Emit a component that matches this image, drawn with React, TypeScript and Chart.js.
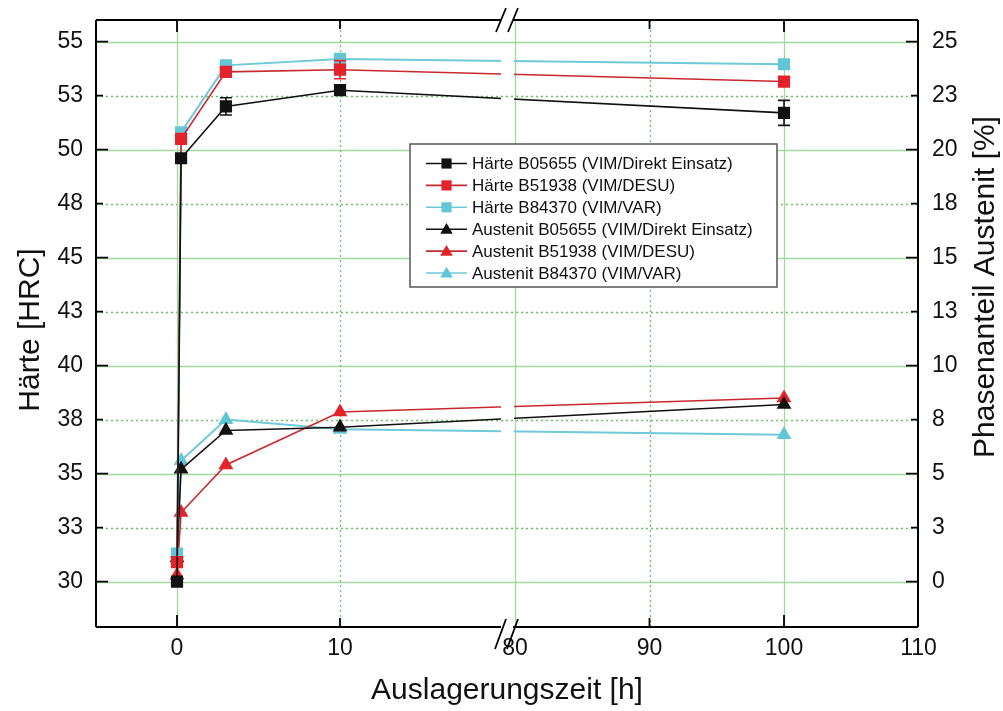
import React, { useEffect, useRef } from "react";
import { Chart, registerables } from "chart.js";

Chart.register(...registerables);

// ---------------- data ----------------
const HOURS = [0, 0.25, 3, 10, 100];

const HAERTE_B05655 = [30.0, 49.6, 52.0, 52.75, 51.7];
const HAERTE_B51938 = [30.9, 50.5, 53.6, 53.7, 53.15];
const HAERTE_B84370 = [31.3, 50.8, 53.9, 54.2, 53.95];

const HAERTE_ERR_B05655 = [0, 0, 0.4, 0.15, 0.58];
const HAERTE_ERR_B51938 = [0, 0, 0.15, 0.42, 0.1];
const HAERTE_ERR_B84370 = [0, 0, 0, 0, 0];

const AUSTENIT_B05655 = [1.1, 5.2, 7.0, 7.15, 8.2];
const AUSTENIT_B51938 = [0.3, 3.2, 5.4, 7.85, 8.5];
const AUSTENIT_B84370 = [1.3, 5.6, 7.5, 7.05, 6.8];

const SERIES_LABELS = [
  "Härte B05655 (VIM/Direkt Einsatz)",
  "Härte B51938 (VIM/DESU)",
  "Härte B84370 (VIM/VAR)",
  "Austenit B05655 (VIM/Direkt Einsatz)",
  "Austenit B51938 (VIM/DESU)",
  "Austenit B84370 (VIM/VAR)",
];

const X_TICK_HOURS = [0, 10, 80, 90, 100, 110];
const X_TICK_LABELS = ["0", "10", "80", "90", "100", "110"];
const Y_LEFT_TICKS = [30, 32.5, 35, 37.5, 40, 42.5, 45, 47.5, 50, 52.5, 55];
const Y_LEFT_TICK_LABELS = ["30", "33", "35", "38", "40", "43", "45", "48", "50", "53", "55"];
const Y_RIGHT_TICKS = [0, 2.5, 5, 7.5, 10, 12.5, 15, 17.5, 20, 22.5, 25];
const Y_RIGHT_TICK_LABELS = ["0", "3", "5", "8", "10", "13", "15", "18", "20", "23", "25"];

const X_TITLE = "Auslagerungszeit [h]";
const Y_LEFT_TITLE = "Härte [HRC]";
const Y_RIGHT_TITLE = "Phasenanteil Austenit [%]";

// ---------------- broken x axis (0..~20 | 80..110) ----------------
const LEFT_UNIT = 16.3; // axis units per hour, left segment
const RIGHT_UNIT = 13.45; // axis units per hour, right segment
const RIGHT_OFFSET = 338; // axis position of 80 h
const X_MIN_V = -81;
const X_MAX_V = 741;
const GAP_V = [324, 337];
const BREAK_V = 330;
const vx = (h: number) => (h < 50 ? h * LEFT_UNIT : RIGHT_OFFSET + (h - 80) * RIGHT_UNIT);

// ---------------- styles ----------------
const FONT = '"Liberation Sans", Arial, Helvetica, sans-serif';
const BLACK = "#111111";
const RED = "#e3222a";
const RED_LINE = "#c9282f";
const CYAN = "#62c6d6";
const CYAN_LINE = "#6fcad8";
const GRID_SOLID = "#a2d89f";
const GRID_DOT = "#6cc06a";

const MARKER_R = 8.6;

const mk = (vals: number[]) => HOURS.map((h, i) => ({ x: vx(h), y: vals[i] }));

const SERIES = [
  { label: SERIES_LABELS[0], data: HAERTE_B05655, err: HAERTE_ERR_B05655, axis: "y", fill: BLACK, line: BLACK, shape: "rect" },
  { label: SERIES_LABELS[1], data: HAERTE_B51938, err: HAERTE_ERR_B51938, axis: "y", fill: RED, line: RED_LINE, shape: "rect" },
  { label: SERIES_LABELS[2], data: HAERTE_B84370, err: HAERTE_ERR_B84370, axis: "y", fill: CYAN, line: CYAN_LINE, shape: "rect" },
  { label: SERIES_LABELS[3], data: AUSTENIT_B05655, err: null, axis: "y2", fill: BLACK, line: BLACK, shape: "triangle" },
  { label: SERIES_LABELS[4], data: AUSTENIT_B51938, err: null, axis: "y2", fill: RED, line: RED_LINE, shape: "triangle" },
  { label: SERIES_LABELS[5], data: AUSTENIT_B84370, err: null, axis: "y2", fill: CYAN, line: CYAN_LINE, shape: "triangle" },
];

function drawMarker(ctx: CanvasRenderingContext2D, shape: string, x: number, y: number, r: number, color: string) {
  ctx.save();
  ctx.fillStyle = color;
  ctx.beginPath();
  if (shape === "rect") {
    const s = Math.SQRT1_2 * r;
    ctx.rect(x - s, y - s, 2 * s, 2 * s);
  } else {
    const w = r * Math.sin(Math.PI / 3);
    ctx.moveTo(x, y - r);
    ctx.lineTo(x + w, y + r / 2);
    ctx.lineTo(x - w, y + r / 2);
    ctx.closePath();
  }
  ctx.fill();
  ctx.restore();
}

const brokenAxisPlugin = {
  id: "brokenAxis",
  beforeDatasetsDraw(chart: any) {
    const { ctx, chartArea: a, scales } = chart;
    const xs = scales.x;
    const yl = scales.y;
    ctx.save();
    ctx.lineWidth = 1.3;
    // horizontal grid
    Y_LEFT_TICKS.forEach((v, i) => {
      const y = Math.round(yl.getPixelForValue(v)) + 0.5;
      const major = i % 2 === 0;
      ctx.strokeStyle = major ? GRID_SOLID : GRID_DOT;
      ctx.setLineDash(major ? [] : [2, 3]);
      ctx.beginPath();
      ctx.moveTo(a.left, y);
      ctx.lineTo(a.right, y);
      ctx.stroke();
    });
    // vertical grid
    X_TICK_HOURS.forEach((h, i) => {
      if (h === X_TICK_HOURS[X_TICK_HOURS.length - 1]) return;
      const x = Math.round(xs.getPixelForValue(vx(h))) + 0.5;
      const major = i % 2 === 0;
      ctx.strokeStyle = major ? GRID_SOLID : GRID_DOT;
      ctx.setLineDash(major ? [] : [2, 3]);
      ctx.beginPath();
      ctx.moveTo(x, a.top);
      ctx.lineTo(x, a.bottom);
      ctx.stroke();
    });
    ctx.restore();

    // clip out the break gap for the data lines
    const g0 = xs.getPixelForValue(GAP_V[0]);
    const g1 = xs.getPixelForValue(GAP_V[1]);
    ctx.save();
    ctx.beginPath();
    ctx.rect(a.left - 20, a.top - 20, g0 - a.left + 20, a.bottom - a.top + 40);
    ctx.rect(g1, a.top - 20, a.right + 20 - g1, a.bottom - a.top + 40);
    ctx.clip();
  },
  afterDatasetsDraw(chart: any) {
    const { ctx, scales } = chart;
    ctx.restore();
    // error bars
    const xs = scales.x;
    SERIES.forEach((s) => {
      if (!s.err) return;
      const ys = scales[s.axis];
      ctx.save();
      ctx.strokeStyle = s.fill;
      ctx.lineWidth = 1.6;
      HOURS.forEach((h, i) => {
        const e = s.err![i];
        if (!e) return;
        const x = xs.getPixelForValue(vx(h));
        const yTop = ys.getPixelForValue(s.data[i] + e);
        const yBot = ys.getPixelForValue(s.data[i] - e);
        ctx.beginPath();
        ctx.moveTo(x, yTop);
        ctx.lineTo(x, yBot);
        ctx.moveTo(x - 6, yTop);
        ctx.lineTo(x + 6, yTop);
        ctx.moveTo(x - 6, yBot);
        ctx.lineTo(x + 6, yBot);
        ctx.stroke();
      });
      ctx.restore();
    });
  },
  afterDraw(chart: any) {
    const { ctx, chartArea: a, scales } = chart;
    const xs = scales.x;
    const yl = scales.y;
    const yr = scales.y2;
    ctx.save();
    ctx.strokeStyle = "#000";
    ctx.lineWidth = 2;
    const bx = xs.getPixelForValue(BREAK_V);
    // frame
    ctx.beginPath();
    ctx.moveTo(a.left, a.top);
    ctx.lineTo(a.left, a.bottom);
    ctx.moveTo(a.right, a.top);
    ctx.lineTo(a.right, a.bottom);
    ctx.moveTo(a.left, a.top);
    ctx.lineTo(bx - 6, a.top);
    ctx.moveTo(bx + 6, a.top);
    ctx.lineTo(a.right, a.top);
    ctx.moveTo(a.left, a.bottom);
    ctx.lineTo(bx - 6, a.bottom);
    ctx.moveTo(bx + 6, a.bottom);
    ctx.lineTo(a.right, a.bottom);
    ctx.stroke();
    // break marks
    ctx.lineWidth = 1.8;
    ctx.beginPath();
    [-6, 6].forEach((d) => {
      const c = bx + d;
      ctx.moveTo(c - 5, a.top + 12);
      ctx.lineTo(c + 5, a.top - 12);
      ctx.moveTo(c - 6, a.bottom + 22);
      ctx.lineTo(c + 5, a.bottom - 8);
    });
    ctx.stroke();
    // inward ticks
    ctx.lineWidth = 1.8;
    ctx.beginPath();
    Y_LEFT_TICKS.forEach((v, i) => {
      const y = yl.getPixelForValue(v);
      const len = i % 2 === 0 ? 12 : 7;
      ctx.moveTo(a.left, y);
      ctx.lineTo(a.left + len, y);
    });
    Y_RIGHT_TICKS.forEach((v, i) => {
      const y = yr.getPixelForValue(v);
      const len = i % 2 === 0 ? 12 : 7;
      ctx.moveTo(a.right, y);
      ctx.lineTo(a.right - len, y);
    });
    X_TICK_HOURS.forEach((h, i) => {
      if (h === 80 || h === 110) return;
      const x = xs.getPixelForValue(vx(h));
      const len = i % 2 === 0 ? 12 : 9;
      ctx.moveTo(x, a.top);
      ctx.lineTo(x, a.top + len);
      ctx.moveTo(x, a.bottom);
      ctx.lineTo(x, a.bottom - len);
    });
    ctx.stroke();

    // axis titles
    ctx.fillStyle = "#111";
    ctx.font = `30px ${FONT}`;
    ctx.textAlign = "center";
    ctx.textBaseline = "middle";
    ctx.save();
    ctx.translate(31, 330);
    ctx.rotate(-Math.PI / 2);
    ctx.fillText(Y_LEFT_TITLE, 0, 0);
    ctx.restore();
    ctx.save();
    ctx.translate(986, 287);
    ctx.rotate(-Math.PI / 2);
    ctx.fillText(Y_RIGHT_TITLE, 0, 0);
    ctx.restore();
    ctx.fillText(X_TITLE, (a.left + a.right) / 2, 691);

    // legend
    const L = { x: 410, y: 144, w: 367, h: 143 };
    ctx.fillStyle = "#fff";
    ctx.fillRect(L.x, L.y, L.w, L.h);
    ctx.strokeStyle = "#555";
    ctx.lineWidth = 1.5;
    ctx.strokeRect(L.x, L.y, L.w, L.h);
    ctx.font = `17px ${FONT}`;
    ctx.textAlign = "left";
    ctx.textBaseline = "middle";
    SERIES.forEach((s, i) => {
      const y = 163.5 + i * 21.9;
      ctx.strokeStyle = s.line;
      ctx.lineWidth = 1.6;
      ctx.beginPath();
      ctx.moveTo(426, y);
      ctx.lineTo(467, y);
      ctx.stroke();
      drawMarker(ctx, s.shape, 446.5, s.shape === "rect" ? y : y + 1, 7.2, s.fill);
      ctx.fillStyle = "#111";
      ctx.fillText(s.label, 472, y + 1);
    });
    ctx.restore();
  },
};

export default function App() {
  const ref = useRef<HTMLCanvasElement>(null);
  useEffect(() => {
    const datasets = SERIES.map((s) => ({
      label: s.label,
      data: mk(s.data),
      yAxisID: s.axis,
      borderColor: s.line,
      backgroundColor: s.fill,
      borderWidth: s.line === CYAN_LINE ? 2 : 1.6,
      pointStyle: s.shape,
      pointRadius: MARKER_R,
      pointBorderWidth: 0,
      pointBackgroundColor: s.fill,
      pointBorderColor: s.fill,
      tension: 0,
      fill: false,
    }));
    const chart = new Chart(ref.current!, {
      type: "line",
      data: { datasets } as any,
      plugins: [brokenAxisPlugin],
      options: {
        responsive: false,
        animation: false,
        layout: { padding: { top: 20, left: 0, right: 0, bottom: 0 } },
        plugins: { legend: { display: false }, tooltip: { enabled: false } },
        scales: {
          x: {
            type: "linear",
            min: X_MIN_V,
            max: X_MAX_V,
            grid: { display: false, drawTicks: false },
            border: { display: false },
            afterBuildTicks: (scale: any) => {
              scale.ticks = X_TICK_HOURS.map((h) => ({ value: vx(h) }));
            },
            afterFit: (scale: any) => {
              scale.height = 84;
              scale.paddingLeft = 0;
              scale.paddingRight = 0;
            },
            ticks: {
              autoSkip: false,
              maxRotation: 0,
              padding: 8,
              color: "#111",
              font: { family: FONT, size: 23 },
              callback: (_v: any, i: number) => X_TICK_LABELS[i],
            },
          },
          y: {
            type: "linear",
            position: "left",
            min: 27.9,
            max: 56,
            grid: { display: false, drawTicks: false },
            border: { display: false },
            afterBuildTicks: (scale: any) => {
              scale.ticks = Y_LEFT_TICKS.map((v) => ({ value: v }));
            },
            afterFit: (scale: any) => {
              scale.width = 96;
              scale.paddingTop = 0;
              scale.paddingBottom = 0;
            },
            ticks: {
              padding: 13,
              color: "#111",
              font: { family: FONT, size: 23 },
              callback: (_v: any, i: number) => Y_LEFT_TICK_LABELS[i],
            },
          },
          y2: {
            type: "linear",
            position: "right",
            min: -2.1,
            max: 26,
            grid: { display: false, drawTicks: false },
            border: { display: false },
            afterBuildTicks: (scale: any) => {
              scale.ticks = Y_RIGHT_TICKS.map((v) => ({ value: v }));
            },
            afterFit: (scale: any) => {
              scale.width = 85;
              scale.paddingTop = 0;
              scale.paddingBottom = 0;
            },
            ticks: {
              padding: 14,
              color: "#111",
              font: { family: FONT, size: 23 },
              callback: (_v: any, i: number) => Y_RIGHT_TICK_LABELS[i],
            },
          },
        },
      } as any,
    });
    return () => chart.destroy();
  }, []);
  return (
    <div style={{ position: "fixed", left: 0, top: 0, width: 1003, height: 711, background: "#fff" }}>
      <canvas ref={ref} width={1003} height={711} style={{ display: "block" }} />
    </div>
  );
}
